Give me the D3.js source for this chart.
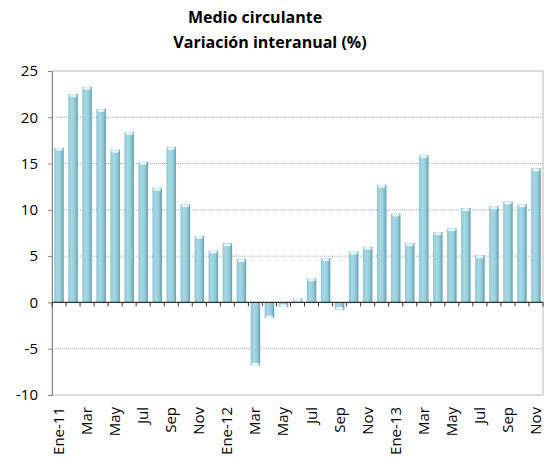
<!DOCTYPE html>
<html>
<head>
<meta charset="utf-8">
<script src="https://cdn.jsdelivr.net/npm/d3@7"></script>
<style>
  body { margin: 0; background: #fff; }
  text { font-family: "Open Sans", sans-serif; fill: #000; }
</style>
</head>
<body>
<script>
// meses Ene-11 .. Nov-13
const months = ['Ene-11','Feb','Mar','Abr','May','Jun','Jul','Ago','Sep','Oct','Nov','Dic',
  'Ene-12','Feb','Mar','Abr','May','Jun','Jul','Ago','Sep','Oct','Nov','Dic',
  'Ene-13','Feb','Mar','Abr','May','Jun','Jul','Ago','Sep','Oct','Nov'];
const values = [16.7, 22.5, 23.3, 20.9, 16.5, 18.4, 15.2, 12.4, 16.8, 10.6, 7.2, 5.6,
  6.4, 4.7, -6.8, -1.7, -0.5, 0.4, 2.6, 4.8, -0.8, 5.5, 6.0, 12.7,
  9.6, 6.4, 15.9, 7.6, 8.0, 10.2, 5.1, 10.4, 10.9, 10.6, 14.5];
const yTicks = [-10, -5, 0, 5, 10, 15, 20, 25];

const W = 544, H = 459;
const margin = {top: 71, right: 1, bottom: 64, left: 52};
const width = W - margin.left - margin.right,
  height = H - margin.top - margin.bottom;

const svgRoot = d3.select('body').append('svg')
  .attr('width', W).attr('height', H);

const defs = svgRoot.append('defs');
let grad = defs.append('linearGradient').attr('id', 'barGrad')
  .attr('x1', '0%').attr('x2', '100%').attr('y1', '0%').attr('y2', '0%');
grad.append('stop').attr('offset', '0%').attr('stop-color', '#8cc6d4');
grad.append('stop').attr('offset', '35%').attr('stop-color', '#a8d8e3');
grad.append('stop').attr('offset', '70%').attr('stop-color', '#92cad8');
grad.append('stop').attr('offset', '100%').attr('stop-color', '#5e9fb1');

svgRoot.append('text').attr('x', 255).attr('y', 23)
  .attr('text-anchor', 'middle').style('font-weight', 'bold').style('font-size', '16px')
  .text('Medio circulante');
svgRoot.append('text').attr('x', 270).attr('y', 48)
  .attr('text-anchor', 'middle').style('font-weight', 'bold').style('font-size', '16px')
  .text('Variación interanual (%)');

const svg = svgRoot.append('g')
  .attr('transform', 'translate(' + margin.left + ',' + margin.top + ')');

const x = d3.scaleBand().domain(d3.range(months.length)).range([0, width]).paddingInner(0.32).paddingOuter(0.16);
const y = d3.scaleLinear().domain([-10, 25]).range([height, 0]);

// grid
svg.selectAll('.grid')
  .data(yTicks.filter(d => d !== 0 && d !== -10 && d !== 25))
  .enter().append('line')
  .attr('x1', 0).attr('x2', width)
  .attr('y1', d => y(d)).attr('y2', d => y(d))
  .attr('stroke', '#aaa').attr('stroke-width', 1).attr('stroke-dasharray', '1,1');

// frame
svg.append('rect').attr('x', 0).attr('y', 0).attr('width', width).attr('height', height)
  .attr('fill', 'none').attr('stroke', '#bbb').attr('stroke-width', 1);

// bars
svg.selectAll('.bar')
  .data(values)
  .enter().append('rect')
  .attr('x', (d, i) => x(i))
  .attr('width', x.bandwidth())
  .attr('y', d => y(Math.max(0, d)))
  .attr('height', d => Math.abs(y(d) - y(0)))
  .attr('fill', 'url(#barGrad)');

// highlight cap
svg.selectAll('.cap')
  .data(values)
  .enter().append('ellipse')
  .attr('cx', (d, i) => x(i) + x.bandwidth() / 2)
  .attr('cy', d => y(d) + (d >= 0 ? 1.5 : -1.5))
  .attr('rx', x.bandwidth() / 2 - 1)
  .attr('ry', 1.5)
  .attr('fill', '#e6f5f8');

// y axis
const yAxis = svg.append('g').call(d3.axisLeft(y).tickValues(yTicks).tickSize(4).tickPadding(10).tickFormat(d => String(d)));
yAxis.select('.domain').attr('stroke', '#888');
yAxis.selectAll('.tick line').attr('stroke', '#888');
yAxis.selectAll('text').style('font-size', '15px').style('font-family', '"Open Sans", sans-serif');

// zero line with ticks at category boundaries
svg.append('line').attr('x1', 0).attr('x2', width)
  .attr('y1', y(0)).attr('y2', y(0)).attr('stroke', '#333').attr('stroke-width', 1.3);
const step = x.step();
svg.selectAll('.zt')
  .data(d3.range(months.length + 1))
  .enter().append('line')
  .attr('x1', d => d * step).attr('x2', d => d * step)
  .attr('y1', y(0)).attr('y2', y(0) + 4)
  .attr('stroke', '#333').attr('stroke-width', 1);

// x labels
svg.selectAll('.xl')
  .data(months.map((m, i) => [m, i]).filter(d => d[1] % 2 === 0))
  .enter().append('text')
  .attr('transform', d => 'translate(' + (x(d[1]) + x.bandwidth() / 2 + 5) + ',' + (height + 12) + ') rotate(-90)')
  .attr('text-anchor', 'end')
  .style('font-size', '15px')
  .text(d => d[0]);
</script>
</body>
</html>
